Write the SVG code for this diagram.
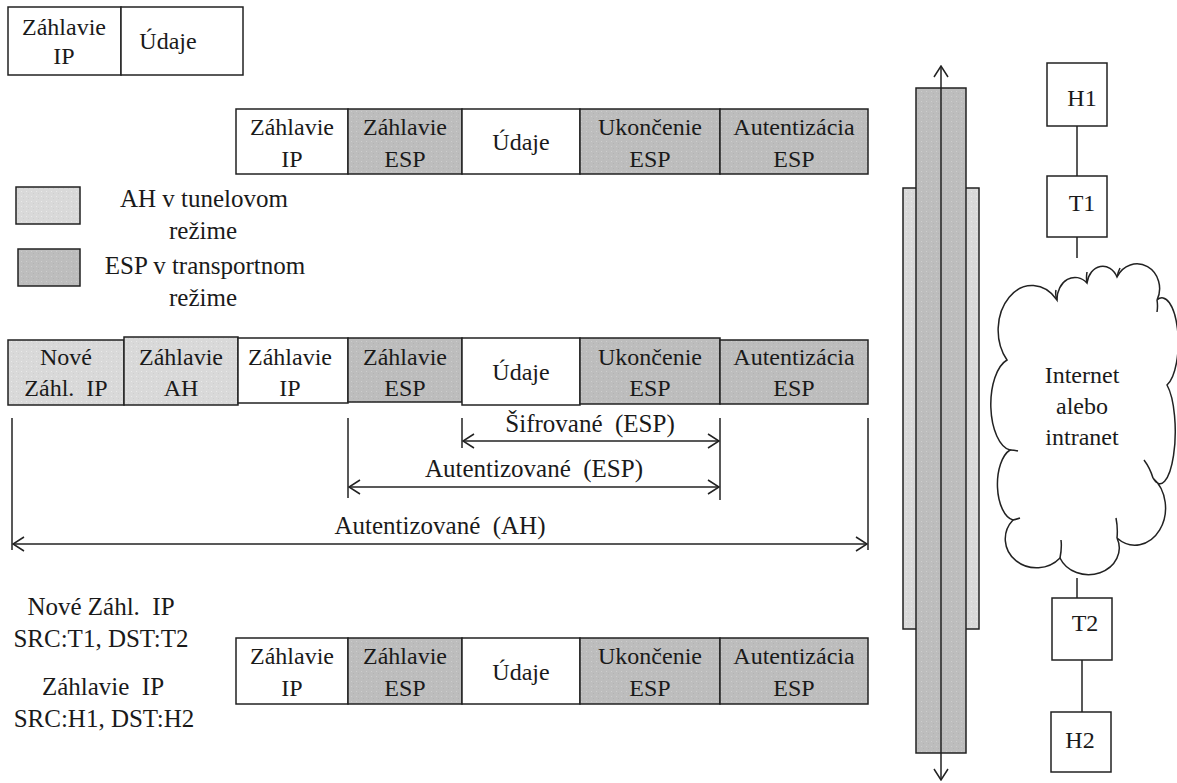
<svg xmlns="http://www.w3.org/2000/svg" width="1177" height="783" viewBox="0 0 1177 783">
  <style>
    .t { font-family: "Liberation Serif", "Times New Roman", serif; font-size: 24px; fill: #1a1a1a; text-anchor: middle; white-space: pre; }
    .l { font-size: 25px; }
    .box { stroke: #222; stroke-width: 1.5; }
    .w { fill: #ffffff; }
    .lt { fill: url(#speckLight); }
    .dk { fill: url(#speckDark); }
    .ln { stroke: #222; stroke-width: 1.5; fill: none; }
  </style>
  <defs>
    <!-- fine stipple used for the shaded fields -->
    <pattern id="speckLight" width="5" height="5" patternUnits="userSpaceOnUse">
      <rect width="5" height="5" fill="#d9d9d9"/>
      <rect x="1" y="1" width="1" height="1" fill="#e9e9e9"/>
      <rect x="3" y="3" width="1" height="1" fill="#cfcfcf"/>
    </pattern>
    <pattern id="speckDark" width="5" height="5" patternUnits="userSpaceOnUse">
      <rect width="5" height="5" fill="#bdbdbd"/>
      <rect x="1" y="1" width="1" height="1" fill="#cdcdcd"/>
      <rect x="3" y="3" width="1" height="1" fill="#b3b3b3"/>
    </pattern>
    <marker id="chev" viewBox="-13 -8 14 16" refX="0" refY="0" markerWidth="14" markerHeight="16" markerUnits="userSpaceOnUse" orient="auto-start-reverse">
      <path d="M-11,-7 L0,0 L-11,7" fill="none" stroke="#222" stroke-width="1.5"/>
    </marker>
  </defs>

  <rect width="1177" height="783" fill="#ffffff"/>

  <!-- plain IP packet -->
  <g id="packet-plain">
    <rect class="box w" x="8" y="7" width="113" height="68"/>
    <rect class="box w" x="121" y="7" width="122" height="68"/>
    <text class="t" x="64" y="35">Záhlavie</text>
    <text class="t" x="64" y="64">IP</text>
    <text class="t" x="168" y="49">Údaje</text>
  </g>

  <!-- ESP transport packet -->
  <g id="packet-esp">
    <rect class="box w" x="236" y="109" width="112" height="65"/>
    <rect class="box dk" x="348" y="109" width="114" height="65"/>
    <rect class="box w" x="462" y="109" width="118" height="65"/>
    <rect class="box dk" x="580" y="109" width="140" height="65"/>
    <rect class="box dk" x="720" y="109" width="148" height="65"/>
    <text class="t" x="292" y="135">Záhlavie</text>
    <text class="t" x="292" y="167">IP</text>
    <text class="t" x="405" y="135">Záhlavie</text>
    <text class="t" x="405" y="167">ESP</text>
    <text class="t" x="521" y="150">Údaje</text>
    <text class="t" x="650" y="135">Ukončenie</text>
    <text class="t" x="650" y="167">ESP</text>
    <text class="t" x="794" y="135">Autentizácia</text>
    <text class="t" x="794" y="167">ESP</text>
  </g>

  <!-- legend -->
  <g id="legend">
    <rect class="box lt" x="16" y="187" width="64" height="37"/>
    <rect class="box dk" x="18" y="249" width="62" height="37"/>
    <text class="t l" x="204" y="207">AH v tunelovom</text>
    <text class="t l" x="203" y="239">režime</text>
    <text class="t l" x="205" y="274">ESP v transportnom</text>
    <text class="t l" x="203" y="306">režime</text>
  </g>

  <!-- AH tunnel + ESP transport packet -->
  <g id="packet-tunnel">
    <rect class="box lt" x="8" y="340" width="116" height="65"/>
    <rect class="box lt" x="124" y="337" width="114" height="68"/>
    <rect class="box w" x="238" y="338" width="110" height="65"/>
    <rect class="box dk" x="348" y="338" width="114" height="64"/>
    <rect class="box w" x="462" y="338" width="118" height="67"/>
    <rect class="box dk" x="580" y="338" width="140" height="66"/>
    <rect class="box dk" x="720" y="340" width="148" height="64"/>
    <text class="t" x="66" y="365">Nové</text>
    <text class="t" x="66" y="396">Záhl.  IP</text>
    <text class="t" x="181" y="365">Záhlavie</text>
    <text class="t" x="181" y="396">AH</text>
    <text class="t" x="290" y="365">Záhlavie</text>
    <text class="t" x="290" y="396">IP</text>
    <text class="t" x="405" y="365">Záhlavie</text>
    <text class="t" x="405" y="396">ESP</text>
    <text class="t" x="521" y="380">Údaje</text>
    <text class="t" x="650" y="365">Ukončenie</text>
    <text class="t" x="650" y="396">ESP</text>
    <text class="t" x="794" y="365">Autentizácia</text>
    <text class="t" x="794" y="396">ESP</text>
  </g>

  <!-- coverage ranges -->
  <g id="ranges">
    <line class="ln" x1="462" y1="418" x2="462" y2="448"/>
    <line class="ln" x1="720" y1="418" x2="720" y2="500"/>
    <line class="ln" x1="348" y1="418" x2="348" y2="498"/>
    <line class="ln" x1="12" y1="418" x2="12" y2="550"/>
    <line class="ln" x1="868" y1="418" x2="868" y2="550"/>
    <line class="ln" x1="463" y1="441" x2="719" y2="441" marker-start="url(#chev)" marker-end="url(#chev)"/>
    <line class="ln" x1="349" y1="487" x2="719" y2="487" marker-start="url(#chev)" marker-end="url(#chev)"/>
    <line class="ln" x1="13" y1="544" x2="867" y2="544" marker-start="url(#chev)" marker-end="url(#chev)"/>
    <text class="t l" x="590" y="432">Šifrované  (ESP)</text>
    <text class="t l" x="534" y="477">Autentizované  (ESP)</text>
    <text class="t l" x="440" y="534">Autentizované  (AH)</text>
  </g>

  <!-- header notes -->
  <g id="notes">
    <text class="t l" x="101" y="615">Nové Záhl.  IP</text>
    <text class="t l" x="101" y="647">SRC:T1, DST:T2</text>
    <text class="t l" x="103" y="695">Záhlavie  IP</text>
    <text class="t l" x="104" y="727">SRC:H1, DST:H2</text>
  </g>

  <!-- inner packet seen by H2 -->
  <g id="packet-inner">
    <rect class="box w" x="236" y="638" width="112" height="66"/>
    <rect class="box dk" x="348" y="638" width="114" height="66"/>
    <rect class="box w" x="462" y="638" width="118" height="66"/>
    <rect class="box dk" x="580" y="638" width="140" height="66"/>
    <rect class="box dk" x="720" y="638" width="148" height="66"/>
    <text class="t" x="292" y="664">Záhlavie</text>
    <text class="t" x="292" y="696">IP</text>
    <text class="t" x="405" y="664">Záhlavie</text>
    <text class="t" x="405" y="696">ESP</text>
    <text class="t" x="521" y="680">Údaje</text>
    <text class="t" x="650" y="664">Ukončenie</text>
    <text class="t" x="650" y="696">ESP</text>
    <text class="t" x="794" y="664">Autentizácia</text>
    <text class="t" x="794" y="696">ESP</text>
  </g>

  <!-- stacked protection bars -->
  <g id="bars">
    <rect class="box lt" x="903" y="188" width="76" height="441"/>
    <rect class="box dk" x="916" y="88" width="50" height="665"/>
    <line class="ln" x1="941" y1="66" x2="941" y2="780" marker-start="url(#chev)" marker-end="url(#chev)"/>
  </g>

  <!-- network links -->
  <g id="links">
    <line class="ln" x1="1077" y1="126" x2="1077" y2="176"/>
    <line class="ln" x1="1077" y1="237" x2="1077" y2="258"/>
    <line class="ln" x1="1077" y1="578" x2="1077" y2="598"/>
    <line class="ln" x1="1082" y1="660" x2="1082" y2="712"/>
  </g>

  <g id="cloud">
    <path class="ln" fill="#ffffff" d="M1007,360
      A32,42 0 0 1 1057,300
      A18,22 0 0 1 1087,283
      A16,20 0 0 1 1117,277
      A22,24 0 0 1 1157,300
      A16,44 0 0 1 1167,385
      A14,48 0 0 1 1153,478
      A28,34 0 0 1 1117,538
      A30,26 0 0 1 1060,558
      A26,24 0 0 1 1013,520
      A18,36 0 0 1 1010,450
      A22,46 0 0 1 1007,360 Z"/>
    <path class="ln" d="M1057,300 Q1055,295 1056,290 M1087,283 Q1086,278 1087,272 M1117,277 Q1118,272 1120,268 M1157,300 Q1158,306 1157,312 M1153,478 Q1150,468 1144,460 M1117,538 Q1118,528 1116,518 M1060,558 Q1062,548 1061,540 M1013,520 Q1017,519 1020,518 M1010,450 Q1014,450 1018,451"/>
    <text class="t" x="1082" y="383">Internet</text>
    <text class="t" x="1082" y="414">alebo</text>
    <text class="t" x="1082" y="445">intranet</text>
  </g>

  <g id="H1">
    <rect class="box w" x="1047" y="63" width="60" height="63"/>
    <text class="t" x="1082" y="106">H1</text>
  </g>
  <g id="T1">
    <rect class="box w" x="1047" y="176" width="60" height="61"/>
    <text class="t" x="1082" y="211">T1</text>
  </g>
  <g id="T2">
    <rect class="box w" x="1052" y="598" width="60" height="62"/>
    <text class="t" x="1085" y="631">T2</text>
  </g>
  <g id="H2">
    <rect class="box w" x="1051" y="712" width="60" height="60"/>
    <text class="t" x="1080" y="748">H2</text>
  </g>
</svg>
